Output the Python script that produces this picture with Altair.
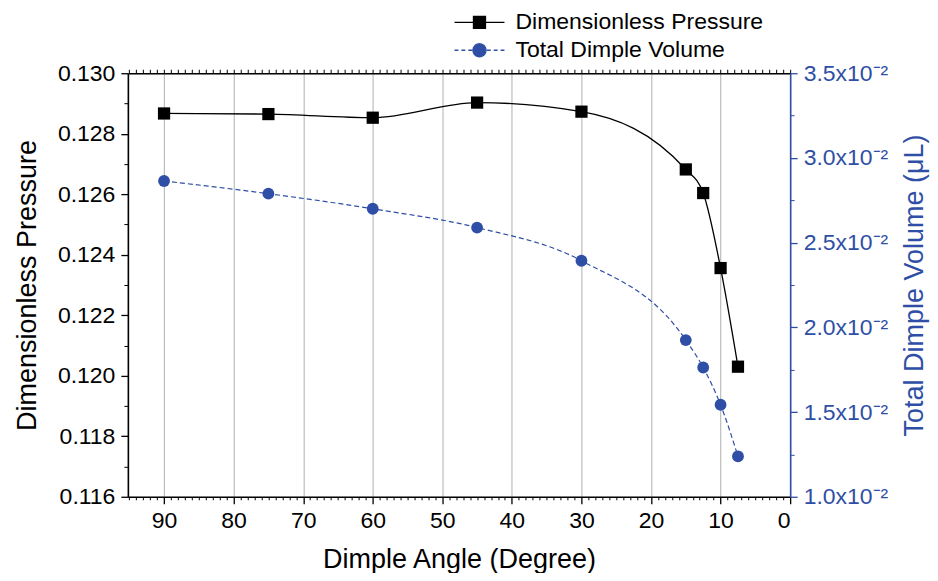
import altair as alt
import pandas as pd

# ---- data ----
angles = [90, 75, 60, 45, 30, 15, 12.5, 10, 7.5]
pressure = [0.12867, 0.12865, 0.12853, 0.12903, 0.12873, 0.12682, 0.12604, 0.12356, 0.12030]
volume = [0.02864, 0.02789, 0.02700, 0.02589, 0.02393, 0.01925, 0.01763, 0.01543, 0.01239]
series_p = "Dimensionless Pressure"
series_v = "Total Dimple Volume"

x_major = [90, 80, 70, 60, 50, 40, 30, 20, 10, 0]
x_minor = [i for i in range(1, 96) if i % 10 != 0]
x_top = list(range(0, 96))
yl_major = [0.116, 0.118, 0.120, 0.122, 0.124, 0.126, 0.128, 0.130]
yl_minor = [0.117, 0.119, 0.121, 0.123, 0.125, 0.127, 0.129]
yr_major = [0.010, 0.015, 0.020, 0.025, 0.030, 0.035]
yr_minor = [0.0125, 0.0175, 0.0225, 0.0275, 0.0325]

FONT = "Liberation Sans"
BLUE = "#2F4FA6"
W, H = 663, 424

dfp = pd.DataFrame({"angle": angles, "value": pressure, "series": series_p})
dfv = pd.DataFrame({"angle": angles, "value": volume, "series": series_v})

xscale = alt.Scale(domain=[0, 95.2], reverse=True, nice=False, zero=False)
yl_scale = alt.Scale(domain=[0.116, 0.130], nice=False, zero=False)
yr_scale = alt.Scale(domain=[0.010, 0.035], nice=False, zero=False)

P_PATH = "M-1,0H0.46M1.385,0H2.846M0.46,-0.46H1.385V0.46H0.46Z"
V_PATH = ("M1.423,0A0.5,0.5 0 1,1 0.423,0A0.5,0.5 0 1,1 1.423,0Z"
          "M-1,0H-0.7M-0.47,0H-0.17M0.06,0H0.36"
          "M1.49,0H1.79M2.02,0H2.32M2.55,0H2.846")

def legend(path, color, ly):
    return alt.Legend(orient="none", legendX=326, legendY=ly, title=None,
                      symbolType=path, symbolSize=676, symbolStrokeWidth=1.3,
                      symbolFillColor=color, symbolStrokeColor=color,
                      symbolDash=[1, 0], symbolOpacity=1,
                      labelFontSize=23, labelFont=FONT, labelColor="black",
                      labelOffset=34, labelLimit=400, padding=0)

x_main_axis = alt.Axis(orient="bottom", values=x_major, format="d",
                       title="Dimple Angle (Degree)", grid=True, gridColor="#b0b0b0",
                       gridWidth=1, tickSize=7, tickColor="black", tickWidth=1.3,
                       domainColor="black", domainWidth=1.6,
                       labelFontSize=23, titleFontSize=27, labelColor="black",
                       titleColor="black", titleFontWeight="normal", labelPadding=6,
                       titlePadding=14, labelFont=FONT, titleFont=FONT)
x_minor_axis = alt.Axis(orient="bottom", values=x_minor, tickSize=3, tickColor="black",
                        labels=False, domain=False, grid=False, title=None)
x_top_axis = alt.Axis(orient="top", values=x_top, tickSize=4,
                      tickColor="black", labels=False, domain=True, domainColor="black",
                      domainWidth=1.6, grid=False, title=None)

yl_major_axis = alt.Axis(orient="left", values=yl_major, format=".3f", tickSize=7,
                         tickColor="black", tickWidth=1.3, domainColor="black",
                         domainWidth=1.6, grid=False, labelFontSize=23, labelFont=FONT,
                         labelColor="black", labelPadding=6, title="Dimensionless Pressure",
                         titleFontSize=27, titleFont=FONT, titleFontWeight="normal",
                         titleColor="black", titlePadding=16)
yl_minor_axis = alt.Axis(orient="left", values=yl_minor, tickSize=4, tickColor="black",
                         labels=False, domain=False, grid=False, title=None)
yr_major_axis = alt.Axis(orient="right", values=yr_major, tickSize=7, tickColor=BLUE,
                         tickWidth=1.3, domainColor=BLUE, domainWidth=1.6, grid=False,
                         labelExpr="format(datum.value*100, '.1f') + 'x10⁻²'",
                         labelFontSize=23, labelFont=FONT, labelColor=BLUE, labelPadding=6,
                         title="Total Dimple Volume (μL)", titleFontSize=27, titleFont=FONT,
                         titleFontWeight="normal", titleColor=BLUE, titleAngle=270,
                         titleBaseline="top", titlePadding=14)
yr_minor_axis = alt.Axis(orient="right", values=yr_minor, tickSize=4, tickColor=BLUE,
                         labels=False, domain=False, grid=False, title=None)

p_color_scale = alt.Scale(domain=[series_p], range=["black"])
v_color_scale = alt.Scale(domain=[series_v], range=[BLUE])
p_legend = legend(P_PATH, "black", -65)
v_legend = legend(V_PATH, BLUE, -37)

p_pts = alt.Chart(dfp).mark_point(shape="square", filled=True, size=150, opacity=1).encode(
    x=alt.X("angle:Q", scale=xscale, axis=x_main_axis),
    y=alt.Y("value:Q", scale=yl_scale, axis=yl_major_axis),
    color=alt.Color("series:N", scale=p_color_scale, legend=p_legend),
)
p_line = alt.Chart(dfp).mark_line(interpolate="monotone", strokeWidth=1.3).encode(
    x=alt.X("angle:Q", scale=xscale, axis=x_minor_axis),
    y=alt.Y("value:Q", scale=yl_scale, axis=yl_minor_axis),
    color=alt.Color("series:N", scale=p_color_scale, legend=p_legend),
)
v_pts = alt.Chart(dfv).mark_point(shape="circle", filled=True, size=140, opacity=1).encode(
    x=alt.X("angle:Q", scale=xscale, axis=x_top_axis),
    y=alt.Y("value:Q", scale=yr_scale, axis=yr_major_axis),
    color=alt.Color("series:N", scale=v_color_scale, legend=v_legend),
)
v_line = alt.Chart(dfv).mark_line(interpolate="monotone", strokeWidth=1.2,
                                  strokeDash=[5, 3]).encode(
    x=alt.X("angle:Q", scale=xscale, axis=None),
    y=alt.Y("value:Q", scale=yr_scale, axis=yr_minor_axis),
    color=alt.Color("series:N", scale=v_color_scale, legend=v_legend),
)

p = alt.layer(p_pts, p_line).resolve_axis(x="independent", y="independent")
v = alt.layer(v_pts, v_line).resolve_axis(x="independent", y="independent")

chart = (
    alt.layer(p, v)
    .resolve_scale(y="independent", color="independent")
    .resolve_axis(x="independent", y="independent")
    .resolve_legend(color="independent")
    .properties(width=W, height=H, padding={"left": 5, "top": 0, "right": 2, "bottom": 0},
                background="white")
    .configure_view(stroke=None)
    .configure(font=FONT)
)

chart.save("out.html", embed_options={"renderer": "svg", "actions": False})
